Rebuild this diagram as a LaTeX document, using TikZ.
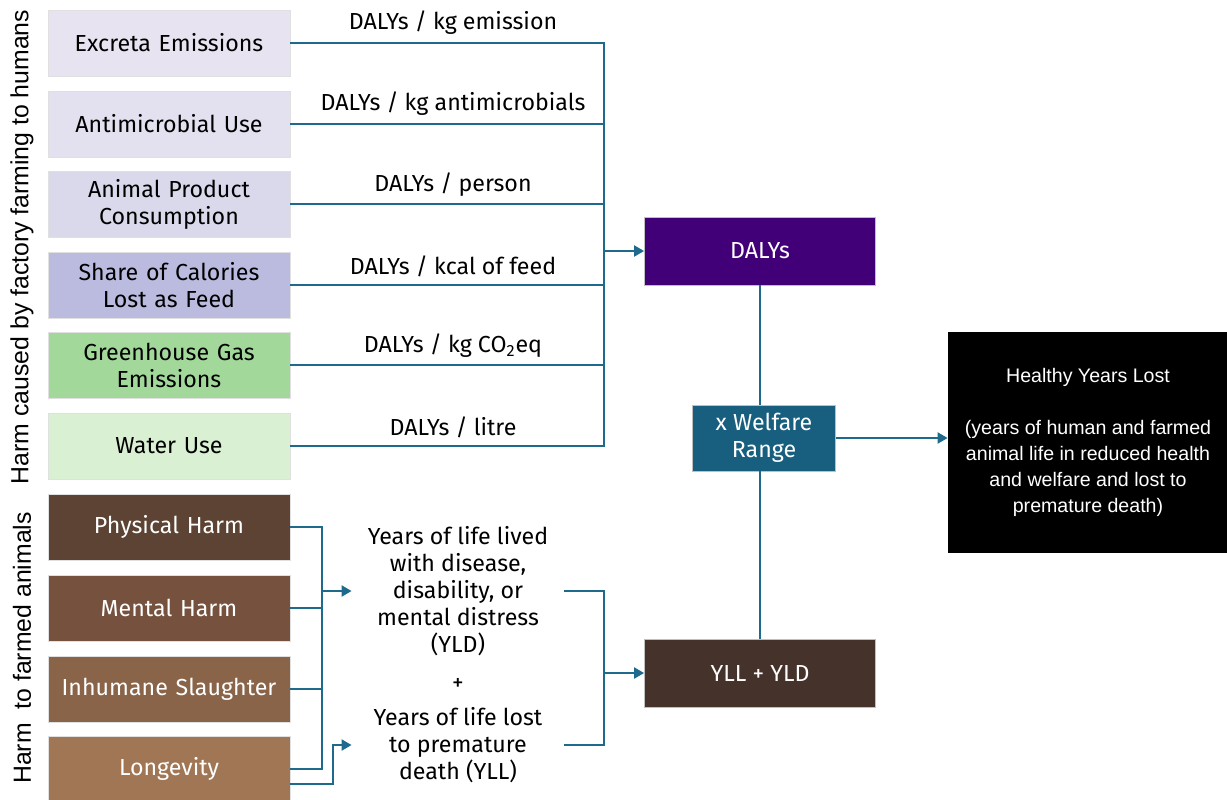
\documentclass[tikz,border=0pt]{standalone}
\usepackage{fontspec}
\setmainfont{Fira Sans}
\newfontfamily\arialfont{Liberation Sans}
\usepackage{xcolor}
\usetikzlibrary{arrows.meta}

\definecolor{linkblue}{HTML}{1E6A8C}
\definecolor{boxA}{HTML}{E8E3F1}
\definecolor{boxB}{HTML}{E3E0EF}
\definecolor{boxC}{HTML}{DAD9EB}
\definecolor{boxD}{HTML}{BBBBDF}
\definecolor{boxE}{HTML}{A2D99B}
\definecolor{boxF}{HTML}{D9F0D2}
\definecolor{boxG}{HTML}{5C4333}
\definecolor{boxH}{HTML}{76523E}
\definecolor{boxI}{HTML}{8A6449}
\definecolor{boxJ}{HTML}{A07655}
\definecolor{dalyviolet}{HTML}{420078}
\definecolor{welfareblue}{HTML}{175E7F}
\definecolor{yllbrown}{HTML}{45322A}

\begin{document}
\begin{tikzpicture}[
        x=0.5pt, y=-0.5pt,
        media/.style={font={\fontsize{11.6}{13.5}\selectfont}},
        source/.style={media, draw=black!12, line width=0.4pt,
            minimum width=121pt, minimum height=33pt, inner sep=1pt,
            align=center, text width=119pt},
        harm/.style={source, text=white},
        result/.style={media, text=white, draw=black!25, line width=0.4pt,
            minimum width=115.5pt, minimum height=34pt, align=center},
        link/.style={draw=linkblue, line width=1pt},
        arrow/.style={link, -{Triangle[length=5pt,width=5.5pt]}},
        rate/.style={media},
        years/.style={media, align=center, minimum width=106pt, inner sep=0pt},
    ]
        \useasboundingbox (0,0) rectangle (1227,799);

        % side captions
        \node[rotate=90, font={\arialfont\fontsize{12.4}{14}\selectfont}] (humcap) at (22,247)
            {Harm caused by factory farming to humans};
        \node[rotate=90, font={\arialfont\fontsize{12.4}{14}\selectfont}] (anicap) at (22,648)
            {Harm\ \ to farmed animals};

        % harm to humans
        \node[source, fill=boxA] (ex) at (169,43) {Excreta Emissions};
        \node[source, fill=boxB] (am) at (169,124) {Antimicrobial Use};
        \node[source, fill=boxC] (ap) at (169,204) {Animal Product\\Consumption};
        \node[source, fill=boxD] (sc) at (169,285) {Share of Calories\\Lost as Feed};
        \node[source, fill=boxE] (gh) at (169,365) {Greenhouse Gas\\Emissions};
        \node[source, fill=boxF] (wa) at (169,446) {Water Use};

        % harm to animals
        \node[harm, fill=boxG] (ph) at (169,527) {Physical Harm};
        \node[harm, fill=boxH] (mh) at (169,608) {Mental Harm};
        \node[harm, fill=boxI] (is) at (169,689) {Inhumane Slaughter};
        \node[harm, fill=boxJ] (lo) at (169,769) {Longevity};

        % rates
        \node[rate] (rex) at (453,23) {DALYs / kg emission};
        \node[rate] (ram) at (453,104) {DALYs / kg antimicrobials};
        \node[rate] (rap) at (453,185) {DALYs / person};
        \node[rate] (rsc) at (453,266) {DALYs / kcal of feed};
        \node[rate] (rgh) at (453,346) {DALYs / kg CO\textsubscript{2}eq};
        \node[rate] (rwa) at (453,427) {DALYs / litre};

        % years lived / lost
        \node[years] (yld) at (458,591)
            {Years of life lived\\with disease,\\disability, or\\mental distress\\(YLD)};
        \node[media] (plus) at (458,684) {+};
        \node[years] (yll) at (458,745)
            {Years of life lost\\to premature\\death (YLL)};

        % results
        \node[result, fill=dalyviolet] (dalys) at (760,251) {DALYs};
        \node[result, fill=welfareblue, minimum width=71.5pt, minimum height=33pt]
            (wr) at (764,438) {x Welfare\\Range};
        \node[result, fill=yllbrown] (yy) at (760,673) {YLL + YLD};
        \node[fill=black, minimum width=140pt, minimum height=110.5pt,
            align=center, text=white,
            font={\arialfont\fontsize{9.8}{13}\selectfont}] (hyl) at (1088,442.5)
            {Healthy Years Lost\\[13pt](years of human and farmed\\animal life in reduced health\\and welfare and lost to\\premature death)};

        % bus to DALYs
        \coordinate (bus) at (604,251);
        \foreach \src in {ex,am,ap,sc,gh,wa}
            \draw[link] (\src.east) -| (bus);
        \draw[arrow] (bus) -- (dalys.west);

        % bus to YLD
        \coordinate (hbus) at (322,591);
        \foreach \src in {ph,mh,is,lo}
            \draw[link] (\src.east) -| (hbus);
        \draw[arrow] (hbus) -- (yld.west);
        \draw[arrow] ([yshift=-7.5pt]lo.east) -- ++(21.5pt,0) |- (yll.west);

        % bracket to YLL + YLD
        \coordinate (rbus) at (604,673);
        \draw[link] (yld.east) -| (rbus);
        \draw[link] (yll.east) -| (rbus);
        \draw[arrow] (rbus) -- (yy.west);

        % welfare range
        \draw[link] (dalys.south) -- (dalys.south |- wr.north);
        \draw[link] (yy.north) -- (yy.north |- wr.south);
        \draw[arrow] (wr.east) -- (wr.east -| hyl.west);
    \end{tikzpicture}
\end{document}
